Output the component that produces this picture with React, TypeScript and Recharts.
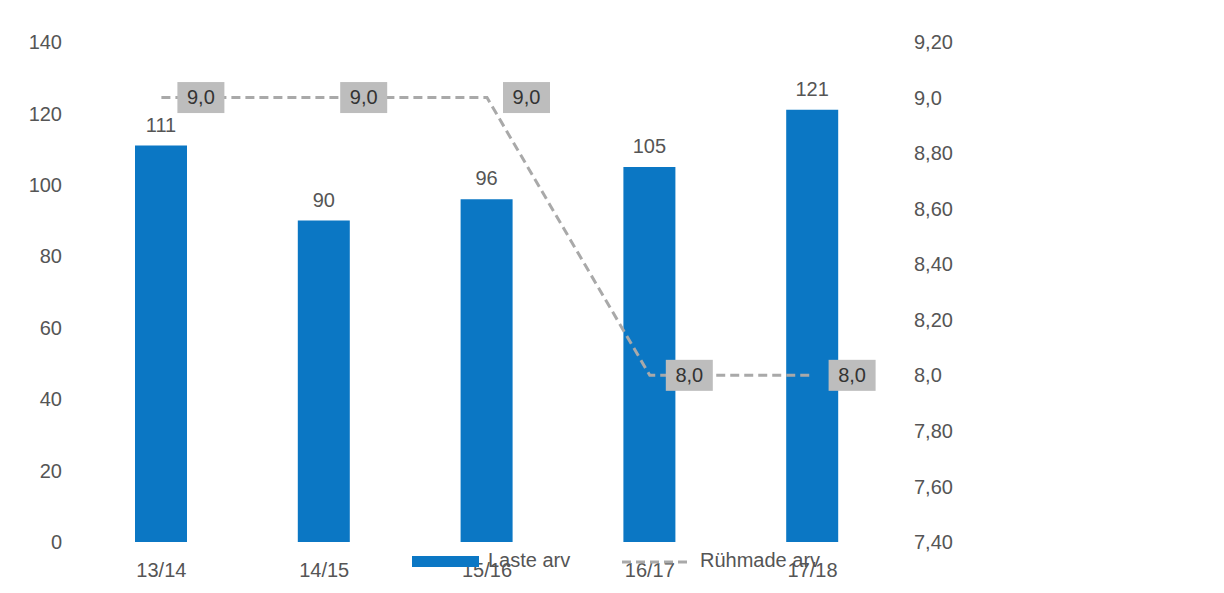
import React from 'react';
import { ComposedChart, Bar, Line, XAxis, YAxis, LabelList, Legend } from 'recharts';

const categories = ['13/14', '14/15', '15/16', '16/17', '17/18'];
const childrenCount = [111, 90, 96, 105, 121];
const groupCount = [9.0, 9.0, 9.0, 8.0, 8.0];
const groupLabels = ['9,0', '9,0', '9,0', '8,0', '8,0'];
const leftTicks = [0, 20, 40, 60, 80, 100, 120, 140];
const rightTicks = [7.4, 7.6, 7.8, 8.0, 8.2, 8.4, 8.6, 8.8, 9.0, 9.2];
const rightTickLabels = ['7,40', '7,60', '7,80', '8,0', '8,20', '8,40', '8,60', '8,80', '9,0', '9,20'];
const seriesNames = ['Laste arv', 'Rühmade arv'];

const data = categories.map((c, i) => ({
  cat: c,
  laste: childrenCount[i],
  ruhmad: groupCount[i],
  lbl: groupLabels[i],
}));

const FONT = '"Liberation Sans", Arial, sans-serif';
const TEXT = '#555555';
const BLUE = '#0b77c4';
const GREY = '#a9a9a9';

const rightFmt = (v: number) => {
  const i = rightTicks.findIndex((t) => Math.abs(t - v) < 1e-6);
  return i >= 0 ? rightTickLabels[i] : String(v);
};

const LineLabel = (props: any) => {
  const { x, y, index } = props;
  const w = 47;
  const h = 31;
  return (
    <g>
      <rect x={x + 16} y={y - h / 2} width={w} height={h} fill="#bdbdbd" />
      <text
        x={x + 16 + w / 2}
        y={y + 1}
        textAnchor="middle"
        dominantBaseline="middle"
        fontSize={20}
        fontFamily={FONT}
        fill="#333333"
      >
        {groupLabels[index]}
      </text>
    </g>
  );
};

const LegendContent = () => (
  <div style={{ position: 'relative', width: 460, height: 26, fontFamily: FONT, fontSize: 20, color: TEXT }}>
    <div style={{ position: 'absolute', left: 0, top: 8, width: 67, height: 11, background: BLUE }} />
    <div style={{ position: 'absolute', left: 76, top: 1, whiteSpace: 'nowrap' }}>{seriesNames[0]}</div>
    <svg style={{ position: 'absolute', left: 210, top: 0 }} width={70} height={26}>
      <line x1={0} y1={14} x2={70} y2={14} stroke={GREY} strokeWidth={3} strokeDasharray="9 5" />
    </svg>
    <div style={{ position: 'absolute', left: 288, top: 1, whiteSpace: 'nowrap' }}>{seriesNames[1]}</div>
  </div>
);

export default function App() {
  return (
    <div style={{ position: 'absolute', left: 0, top: 0, width: 1224, height: 593, background: '#ffffff' }}>
      <ComposedChart
        width={1224}
        height={593}
        data={data}
        margin={{ top: 42, right: 250, bottom: 21, left: 0 }}
      >
        <XAxis
          dataKey="cat"
          axisLine={false}
          tickLine={false}
          height={30}
          tick={{ fill: TEXT, fontSize: 20, fontFamily: FONT, dy: 13 }}
          interval={0}
        />
        <YAxis
          yAxisId="left"
          orientation="left"
          domain={[0, 140]}
          ticks={leftTicks}
          axisLine={false}
          tickLine={false}
          width={80}
          tickMargin={12}
          tick={{ fill: TEXT, fontSize: 20, fontFamily: FONT }}
        />
        <YAxis
          yAxisId="right"
          orientation="right"
          domain={[7.4, 9.2]}
          ticks={rightTicks}
          tickFormatter={rightFmt}
          axisLine={false}
          tickLine={false}
          width={80}
          tickMargin={14}
          tick={{ fill: TEXT, fontSize: 20, fontFamily: FONT }}
        />
        <Bar yAxisId="left" dataKey="laste" name={seriesNames[0]} fill={BLUE} barSize={52} isAnimationActive={false}>
          <LabelList dataKey="laste" position="top" offset={14} fill={TEXT} fontSize={20} fontFamily={FONT} />
        </Bar>
        <Line
          yAxisId="right"
          dataKey="ruhmad"
          name={seriesNames[1]}
          stroke={GREY}
          strokeWidth={3}
          strokeDasharray="9 5"
          dot={false}
          activeDot={false}
          type="linear"
          isAnimationActive={false}
        >
          <LabelList dataKey="lbl" content={<LineLabel />} />
        </Line>
        <Legend
          layout="horizontal"
          verticalAlign="middle"
          align="center"
          content={<LegendContent />}
          wrapperStyle={{ position: 'absolute', left: 412, top: 548, width: 460, height: 26 }}
        />
      </ComposedChart>
    </div>
  );
}
